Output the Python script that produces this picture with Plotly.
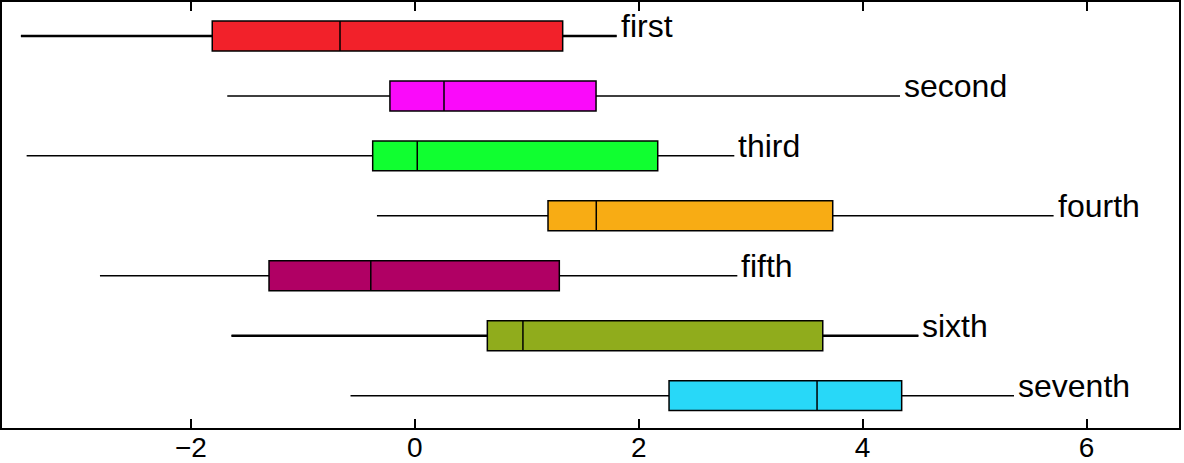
import plotly.graph_objects as go

categories = ["first", "second", "third", "fourth", "fifth", "sixth", "seventh"]
lower = [-3.518, -1.675, -3.467, -0.338, -2.812, -1.637, -0.574]
q1 = [-1.809, -0.222, -0.376, 1.190, -1.302, 0.648, 2.271]
median = [-0.668, 0.261, 0.022, 1.621, -0.393, 0.966, 3.593]
q3 = [1.321, 1.619, 2.170, 3.733, 1.291, 3.644, 4.349]
upper = [1.803, 4.334, 2.854, 5.706, 2.881, 4.498, 5.352]
colors = ["#F2212A", "#FA0AFA", "#10FF30", "#F8AC14", "#B00064", "#90AC1C", "#28D8F8"]
thick_whisker = [True, False, False, False, False, True, False]
tick_vals = [-2, 0, 2, 4, 6]

FONT = "Liberation Sans, Arial, Helvetica, sans-serif"

fig = go.Figure()
for i, cat in enumerate(categories):
    fig.add_trace(go.Box(
        y=[cat], q1=[q1[i]], median=[median[i]], q3=[q3[i]],
        lowerfence=[lower[i]], upperfence=[upper[i]],
        orientation="h", fillcolor=colors[i],
        line=dict(color="black", width=1.5),
        whiskerwidth=0, width=0.5, boxpoints=False,
        showlegend=False, hoverinfo="skip",
    ))
    if thick_whisker[i]:
        for a, b in ((lower[i], q1[i]), (q3[i], upper[i])):
            fig.add_trace(go.Scatter(
                x=[a, b], y=[cat, cat], mode="lines",
                line=dict(color="black", width=2.5),
                showlegend=False, hoverinfo="skip",
            ))
    fig.add_annotation(
        x=upper[i], y=cat, text=cat, showarrow=False,
        xanchor="left", yanchor="middle", xshift=2, yshift=10,
        font=dict(family=FONT, size=32, color="black"),
    )

fig.update_layout(
    width=1184, height=463,
    margin=dict(l=2, r=5, t=2, b=35, pad=0),
    paper_bgcolor="white", plot_bgcolor="white",
    font=dict(family=FONT, color="black"),
)
fig.update_xaxes(
    range=[-3.687, 6.826], tickvals=tick_vals, automargin=False,
    ticks="inside", ticklen=9, tickwidth=2, tickcolor="black",
    showline=True, linecolor="black", linewidth=2, mirror="ticks",
    showgrid=False, zeroline=False, ticklabelstandoff=-7,
    tickfont=dict(family=FONT, size=28, color="black"),
)
fig.update_yaxes(
    categoryorder="array", categoryarray=categories, automargin=False,
    range=[6.54, -0.567],
    showticklabels=False, ticks="",
    showline=True, linecolor="black", linewidth=2, mirror=True,
    showgrid=False, zeroline=False,
)

fig.write_html(
    "out.html",
    config={"displayModeBar": False},
    post_script="document.body.style.margin='0';document.body.style.overflow='hidden';",
)
